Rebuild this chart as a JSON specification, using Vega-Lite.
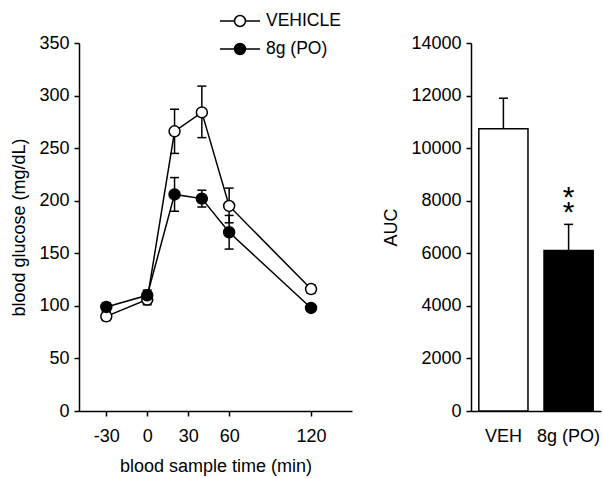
{
  "$schema": "https://vega.github.io/schema/vega-lite/v6.json",
  "padding": {"left": 10, "top": 6, "right": 5, "bottom": 5},
  "background": "white",
  "config": {
    "view": {"stroke": null},
    "font": "Liberation Sans",
    "axis": {
      "domainColor": "black", "domainWidth": 1.5, "tickColor": "black", "tickWidth": 1.5, "tickSize": 5,
      "labelColor": "black", "labelFont": "Liberation Sans", "labelFontSize": 18,
      "titleFont": "Liberation Sans", "titleFontSize": 18, "titleFontWeight": "normal", "titleColor": "black",
      "grid": false, "labelPadding": 5
    }
  },
  "datasets": {
    "glucose": [
      {"group": "VEHICLE", "time": -30, "glucose": 90, "lo": 86, "hi": 94},
      {"group": "VEHICLE", "time": 0, "glucose": 106, "lo": 101, "hi": 111},
      {"group": "VEHICLE", "time": 20, "glucose": 266, "lo": 245, "hi": 287},
      {"group": "VEHICLE", "time": 40, "glucose": 284, "lo": 260, "hi": 309},
      {"group": "VEHICLE", "time": 60, "glucose": 195, "lo": 179, "hi": 212},
      {"group": "VEHICLE", "time": 120, "glucose": 116, "lo": 112, "hi": 120},
      {"group": "8g (PO)", "time": -30, "glucose": 99, "lo": 95, "hi": 103},
      {"group": "8g (PO)", "time": 0, "glucose": 110, "lo": 105, "hi": 115},
      {"group": "8g (PO)", "time": 20, "glucose": 206, "lo": 190, "hi": 222},
      {"group": "8g (PO)", "time": 40, "glucose": 202, "lo": 194, "hi": 210},
      {"group": "8g (PO)", "time": 60, "glucose": 170, "lo": 154, "hi": 186},
      {"group": "8g (PO)", "time": 120, "glucose": 98, "lo": 95, "hi": 101}
    ],
    "auc": [
      {"cond": "VEH", "auc": 10737, "hi": 11900, "star": ""},
      {"cond": "8g (PO)", "auc": 6108, "hi": 7100, "star": "*\n*"}
    ]
  },
  "hconcat": [
    {
      "width": 273,
      "height": 368,
      "data": {"name": "glucose"},
      "layer": [
        {
          "mark": {"type": "line", "color": "black", "strokeWidth": 1.5},
          "encoding": {
            "x": {"field": "time", "type": "quantitative",
                  "scale": {"domain": [-50, 150], "nice": false, "zero": false},
                  "axis": {"values": [-30, 0, 30, 60, 120], "labelExpr": "'' + datum.value", "title": "blood sample time (min)", "labelPadding": 11, "titlePadding": 12}},
            "y": {"field": "glucose", "type": "quantitative",
                  "scale": {"domain": [0, 350], "nice": false},
                  "axis": {"values": [0, 50, 100, 150, 200, 250, 300, 350], "title": "blood glucose (mg/dL)", "titlePadding": 10}},
            "detail": {"field": "group", "type": "nominal"}
          }
        },
        {
          "mark": {"type": "rule", "color": "black", "strokeWidth": 1.5},
          "encoding": {
            "x": {"field": "time", "type": "quantitative"},
            "y": {"field": "lo", "type": "quantitative"},
            "y2": {"field": "hi"}
          }
        },
        {
          "mark": {"type": "tick", "orient": "horizontal", "color": "black", "size": 9, "thickness": 1.5, "opacity": 1},
          "encoding": {
            "x": {"field": "time", "type": "quantitative"},
            "y": {"field": "lo", "type": "quantitative"}
          }
        },
        {
          "mark": {"type": "tick", "orient": "horizontal", "color": "black", "size": 9, "thickness": 1.5, "opacity": 1},
          "encoding": {
            "x": {"field": "time", "type": "quantitative"},
            "y": {"field": "hi", "type": "quantitative"}
          }
        },
        {
          "mark": {"type": "point", "filled": true, "size": 120, "stroke": "black", "strokeWidth": 1.5, "opacity": 1},
          "encoding": {
            "x": {"field": "time", "type": "quantitative"},
            "y": {"field": "glucose", "type": "quantitative"},
            "fill": {"field": "group", "type": "nominal",
                     "scale": {"domain": ["VEHICLE", "8g (PO)"], "range": ["white", "black"]},
                     "legend": {
                       "orient": "none", "legendX": 146, "legendY": -37, "title": null,
                       "symbolType": "M-1.43,0L-0.39,0M0.39,0L1.43,0M0.39,0A0.39,0.39,0,1,1,-0.39,0A0.39,0.39,0,1,1,0.39,0Z",
                       "symbolSize": 784, "symbolStrokeColor": "black", "symbolStrokeWidth": 1.5, "symbolOpacity": 1,
                       "labelFontSize": 17.5, "labelFont": "Liberation Sans", "labelColor": "black",
                       "labelOffset": 11, "rowPadding": 4, "padding": 0
                     }}
          }
        }
      ]
    },
    {
      "width": 130,
      "height": 368,
      "data": {"name": "auc"},
      "layer": [
        {
          "mark": {"type": "bar", "stroke": "black", "strokeWidth": 1.5},
          "encoding": {
            "x": {"field": "cond", "type": "nominal", "sort": ["VEH", "8g (PO)"],
                  "scale": {"paddingInner": 0.246, "paddingOuter": 0.12},
                  "axis": {"title": null, "labelAngle": 0, "ticks": false, "labelPadding": 16}},
            "y": {"field": "auc", "type": "quantitative",
                  "scale": {"domain": [0, 14000], "nice": false},
                  "axis": {"values": [0, 2000, 4000, 6000, 8000, 10000, 12000, 14000], "format": "d", "title": "AUC", "titlePadding": 10}},
            "fill": {"field": "cond", "type": "nominal",
                     "scale": {"domain": ["VEH", "8g (PO)"], "range": ["white", "black"]}, "legend": null}
          }
        },
        {
          "mark": {"type": "rule", "color": "black", "strokeWidth": 1.5},
          "encoding": {
            "x": {"field": "cond", "type": "nominal", "sort": ["VEH", "8g (PO)"]},
            "y": {"field": "auc", "type": "quantitative"},
            "y2": {"field": "hi"}
          }
        },
        {
          "mark": {"type": "tick", "orient": "horizontal", "color": "black", "size": 9, "thickness": 1.5, "opacity": 1},
          "encoding": {
            "x": {"field": "cond", "type": "nominal", "sort": ["VEH", "8g (PO)"]},
            "y": {"field": "hi", "type": "quantitative"}
          }
        },
        {
          "mark": {"type": "text", "fontSize": 30, "lineBreak": "\n", "lineHeight": 15, "dy": -17, "baseline": "alphabetic", "color": "black", "font": "Liberation Sans"},
          "encoding": {
            "x": {"field": "cond", "type": "nominal", "sort": ["VEH", "8g (PO)"]},
            "y": {"field": "hi", "type": "quantitative"},
            "text": {"field": "star", "type": "nominal"}
          }
        }
      ]
    }
  ],
  "spacing": 30,
  "resolve": {"scale": {"fill": "independent", "x": "independent", "y": "independent"}, "legend": {"fill": "independent"}}
}
